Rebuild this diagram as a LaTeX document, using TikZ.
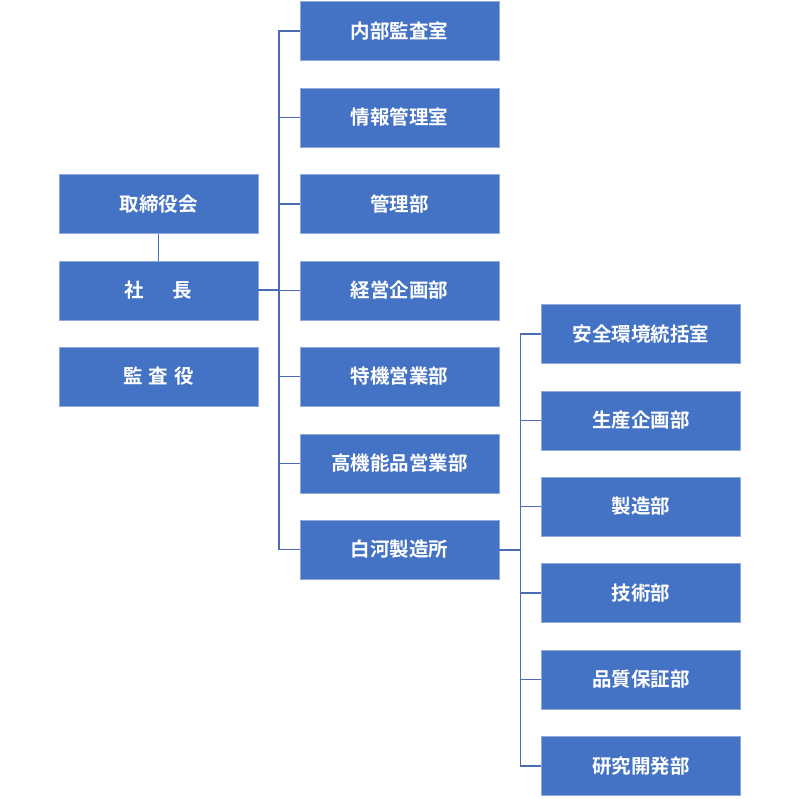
\documentclass[tikz,border=0pt]{standalone}
\usepackage{fontspec}
\setmainfont{Noto Sans CJK JP}[BoldFont={* Bold}]
\newfontfamily\jpb{Noto Sans CJK JP Bold}
\definecolor{boxfill}{HTML}{4472C4}
\definecolor{boxline}{HTML}{8EAADB}
\definecolor{conn}{HTML}{4A6CB5}
\begin{document}
\begin{tikzpicture}[x=1pt,y=-1pt,
  orgbox/.style={rectangle, fill=boxfill, draw=boxline, line width=0.8pt,
    minimum width=199pt, minimum height=59pt, inner sep=0pt,
    text=white, font=\jpb\fontsize{19.5}{21}\selectfont},
  link/.style={draw=conn, line width=1.3pt}]
\useasboundingbox (0,0) rectangle (800,799);
% left column
\node[orgbox] (tori) at (158.5,204) {取締役会};
\node[orgbox] (sha) at (158.5,290.5) {社\hspace{29pt}長};
\node[orgbox] (kan) at (158.5,376.5) {監\hspace{6pt}査\hspace{6pt}役};
% middle column
\node[orgbox] (m1) at (399.5,31) {内部監査室};
\node[orgbox] (m2) at (399.5,117.5) {情報管理室};
\node[orgbox] (m3) at (399.5,204) {管理部};
\node[orgbox] (m4) at (399.5,290.5) {経営企画部};
\node[orgbox] (m5) at (399.5,376.5) {特機営業部};
\node[orgbox] (m6) at (399.5,463.5) {高機能品営業部};
\node[orgbox] (m7) at (399.5,549.5) {白河製造所};
% right column
\node[orgbox] (r1) at (641,334) {安全環境統括室};
\node[orgbox] (r2) at (641,420.5) {生産企画部};
\node[orgbox] (r3) at (641,506.5) {製造部};
\node[orgbox] (r4) at (641,593) {技術部};
\node[orgbox] (r5) at (641,679.5) {品質保証部};
\node[orgbox] (r6) at (641,766) {研究開発部};
% connectors
\coordinate (tr) at (279,290.5);
\coordinate (tr2) at (520.5,549.5);
\draw[link] (tori.south) -- (sha.north);
\draw[link, line width=2pt] (sha.east) -- (tr);
\foreach \m in {m1,m2,m3,m4,m5,m6,m7} \draw[link] (\m.west) -| (tr);
\draw[link, line width=2pt] (m7.east) -- (tr2);
\foreach \r in {r1,r2,r3,r4,r5,r6} \draw[link] (\r.west) -| (tr2);
\end{tikzpicture}
\end{document}
